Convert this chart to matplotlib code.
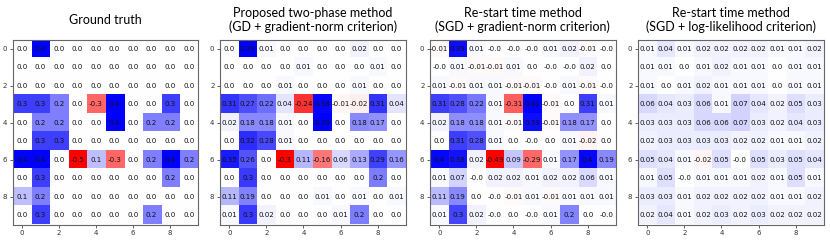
import matplotlib

matplotlib.use("Agg")
import matplotlib.pyplot as plt
import numpy as np
from matplotlib.colors import TwoSlopeNorm

TITLES = [
    "Ground truth",
    "Proposed two-phase method\n(GD + gradient-norm criterion)",
    "Re-start time method\n(SGD + gradient-norm criterion)",
    "Re-start time method\n(SGD + log-likelihood criterion)",
]

truth = [
    [0.0, 0.4, 0.0, 0.0, 0.0, 0.0, 0.0, 0.0, 0.0, 0.0],
    [0.0, 0.0, 0.0, 0.0, 0.0, 0.0, 0.0, 0.0, 0.0, 0.0],
    [0.0, 0.0, 0.0, 0.0, 0.0, 0.0, 0.0, 0.0, 0.0, 0.0],
    [0.3, 0.3, 0.2, 0.0, -0.3, 0.4, 0.0, 0.0, 0.3, 0.0],
    [0.0, 0.2, 0.2, 0.0, 0.0, 0.4, 0.0, 0.2, 0.2, 0.0],
    [0.0, 0.3, 0.3, 0.0, 0.0, 0.0, 0.0, 0.0, 0.0, 0.0],
    [0.4, 0.4, 0.0, -0.5, 0.1, -0.3, 0.0, 0.2, 0.4, 0.2],
    [0.0, 0.3, 0.0, 0.0, 0.0, 0.0, 0.0, 0.0, 0.2, 0.0],
    [0.1, 0.2, 0.0, 0.0, 0.0, 0.0, 0.0, 0.0, 0.0, 0.0],
    [0.0, 0.3, 0.0, 0.0, 0.0, 0.0, 0.0, 0.2, 0.0, 0.0],
]

two_phase = [
    [0.0, 0.39, 0.01, 0.0, 0.0, 0.0, 0.0, 0.02, 0.0, 0.0],
    [0.0, 0.0, 0.0, 0.0, 0.01, 0.0, 0.0, 0.0, 0.01, 0.0],
    [0.0, 0.0, 0.0, 0.01, 0.0, 0.0, 0.0, 0.01, 0.0, 0.0],
    [0.31, 0.27, 0.22, 0.04, -0.24, 0.38, -0.01, -0.02, 0.31, 0.04],
    [0.02, 0.18, 0.18, 0.01, 0.0, 0.39, 0.0, 0.18, 0.17, 0.0],
    [0.0, 0.32, 0.28, 0.01, 0.0, 0.0, 0.0, 0.0, 0.0, 0.0],
    [0.35, 0.26, 0.0, -0.3, 0.11, -0.16, 0.06, 0.13, 0.29, 0.16],
    [0.0, 0.3, 0.0, 0.0, 0.0, 0.0, 0.0, 0.0, 0.2, 0.0],
    [0.11, 0.19, 0.0, 0.0, 0.0, 0.01, 0.0, 0.01, 0.0, 0.01],
    [0.01, 0.3, 0.02, 0.0, 0.0, 0.0, 0.01, 0.2, 0.0, 0.0],
]

restart_grad = [
    [-0.01, 0.39, 0.01, -0.0, -0.0, -0.0, 0.01, 0.02, -0.01, -0.0],
    [-0.0, 0.01, -0.01, -0.01, 0.01, 0.0, -0.0, -0.0, 0.02, 0.0],
    [0.01, -0.01, 0.01, 0.01, -0.01, -0.01, -0.0, 0.01, -0.01, -0.0],
    [0.31, 0.28, 0.22, 0.01, -0.31, 0.41, -0.01, 0.0, 0.31, 0.01],
    [0.02, 0.18, 0.18, 0.01, -0.01, 0.39, -0.01, 0.18, 0.17, 0.0],
    [0.0, 0.31, 0.28, 0.01, 0.0, -0.0, 0.0, 0.01, -0.02, 0.0],
    [0.4, 0.38, 0.02, -0.49, 0.09, -0.29, 0.01, 0.17, 0.4, 0.19],
    [0.01, 0.07, -0.0, 0.02, 0.02, 0.01, 0.02, 0.02, 0.06, 0.01],
    [0.11, 0.19, 0.0, -0.0, -0.01, 0.01, -0.01, 0.01, 0.01, 0.01],
    [0.01, 0.3, 0.02, -0.0, 0.0, -0.0, 0.01, 0.2, 0.0, -0.0],
]

restart_loglik = [
    [0.01, 0.04, 0.01, 0.02, 0.02, 0.02, 0.02, 0.01, 0.01, 0.02],
    [0.01, 0.01, 0.0, 0.01, 0.02, 0.01, 0.01, 0.0, 0.01, 0.01],
    [0.01, 0.0, 0.01, 0.02, 0.01, 0.01, 0.01, 0.0, 0.01, 0.01],
    [0.06, 0.04, 0.03, 0.06, 0.01, 0.07, 0.04, 0.02, 0.05, 0.03],
    [0.03, 0.03, 0.03, 0.06, 0.06, 0.07, 0.03, 0.02, 0.04, 0.03],
    [0.02, 0.03, 0.03, 0.03, 0.03, 0.02, 0.02, 0.01, 0.01, 0.02],
    [0.05, 0.04, 0.01, -0.02, 0.05, -0.0, 0.05, 0.03, 0.05, 0.04],
    [0.01, 0.05, -0.0, 0.01, 0.01, 0.01, 0.02, 0.01, 0.05, 0.01],
    [0.03, 0.03, 0.01, 0.02, 0.02, 0.02, 0.02, 0.01, 0.01, 0.02],
    [0.02, 0.04, 0.01, 0.02, 0.03, 0.02, 0.03, 0.02, 0.02, 0.02],
]

PANELS = [truth, two_phase, restart_grad, restart_loglik]
LEFTS = [12.5, 220, 430, 638]

W, H = 830, 241
AX_TOP, AX_BOTTOM, AX_W = 39.5, 224.5, 185.5
fig = plt.figure(figsize=(W / 100, H / 100), dpi=100)

for i, (data, title, left) in enumerate(zip(PANELS, TITLES, LEFTS)):
    arr = np.array(data)
    if i < 3:
        norm = TwoSlopeNorm(vcenter=0.0, vmin=arr.min(), vmax=arr.max())
    else:
        norm = TwoSlopeNorm(vcenter=0.0, vmin=-0.5, vmax=0.4)
    ax = fig.add_axes([left / W, (H - AX_BOTTOM) / H, AX_W / W,
                       (AX_BOTTOM - AX_TOP) / H])
    ax.imshow(arr, cmap="bwr_r", norm=norm, aspect="auto")
    for r in range(arr.shape[0]):
        for c in range(arr.shape[1]):
            ax.text(c, r, str(data[r][c]), ha="center", va="center",
                    fontsize=5.1, color="#111111")
    ax.set_xticks([0, 2, 4, 6, 8])
    ax.set_yticks([0, 2, 4, 6, 8])
    ax.tick_params(labelsize=5, length=2.5, width=0.6, pad=1.5,
                   color="#444444", labelcolor="#333333")
    for spine in ax.spines.values():
        spine.set_color("#666666")
        spine.set_linewidth(0.8)
    # titles centred on a common band above the panels
    fig.text((left + AX_W / 2) / W, 1 - 20 / H, title, ha="center",
             va="center", fontsize=9, family=["Lato", "DejaVu Sans"],
             linespacing=1.2)

fig.savefig("out.png", dpi=100)
